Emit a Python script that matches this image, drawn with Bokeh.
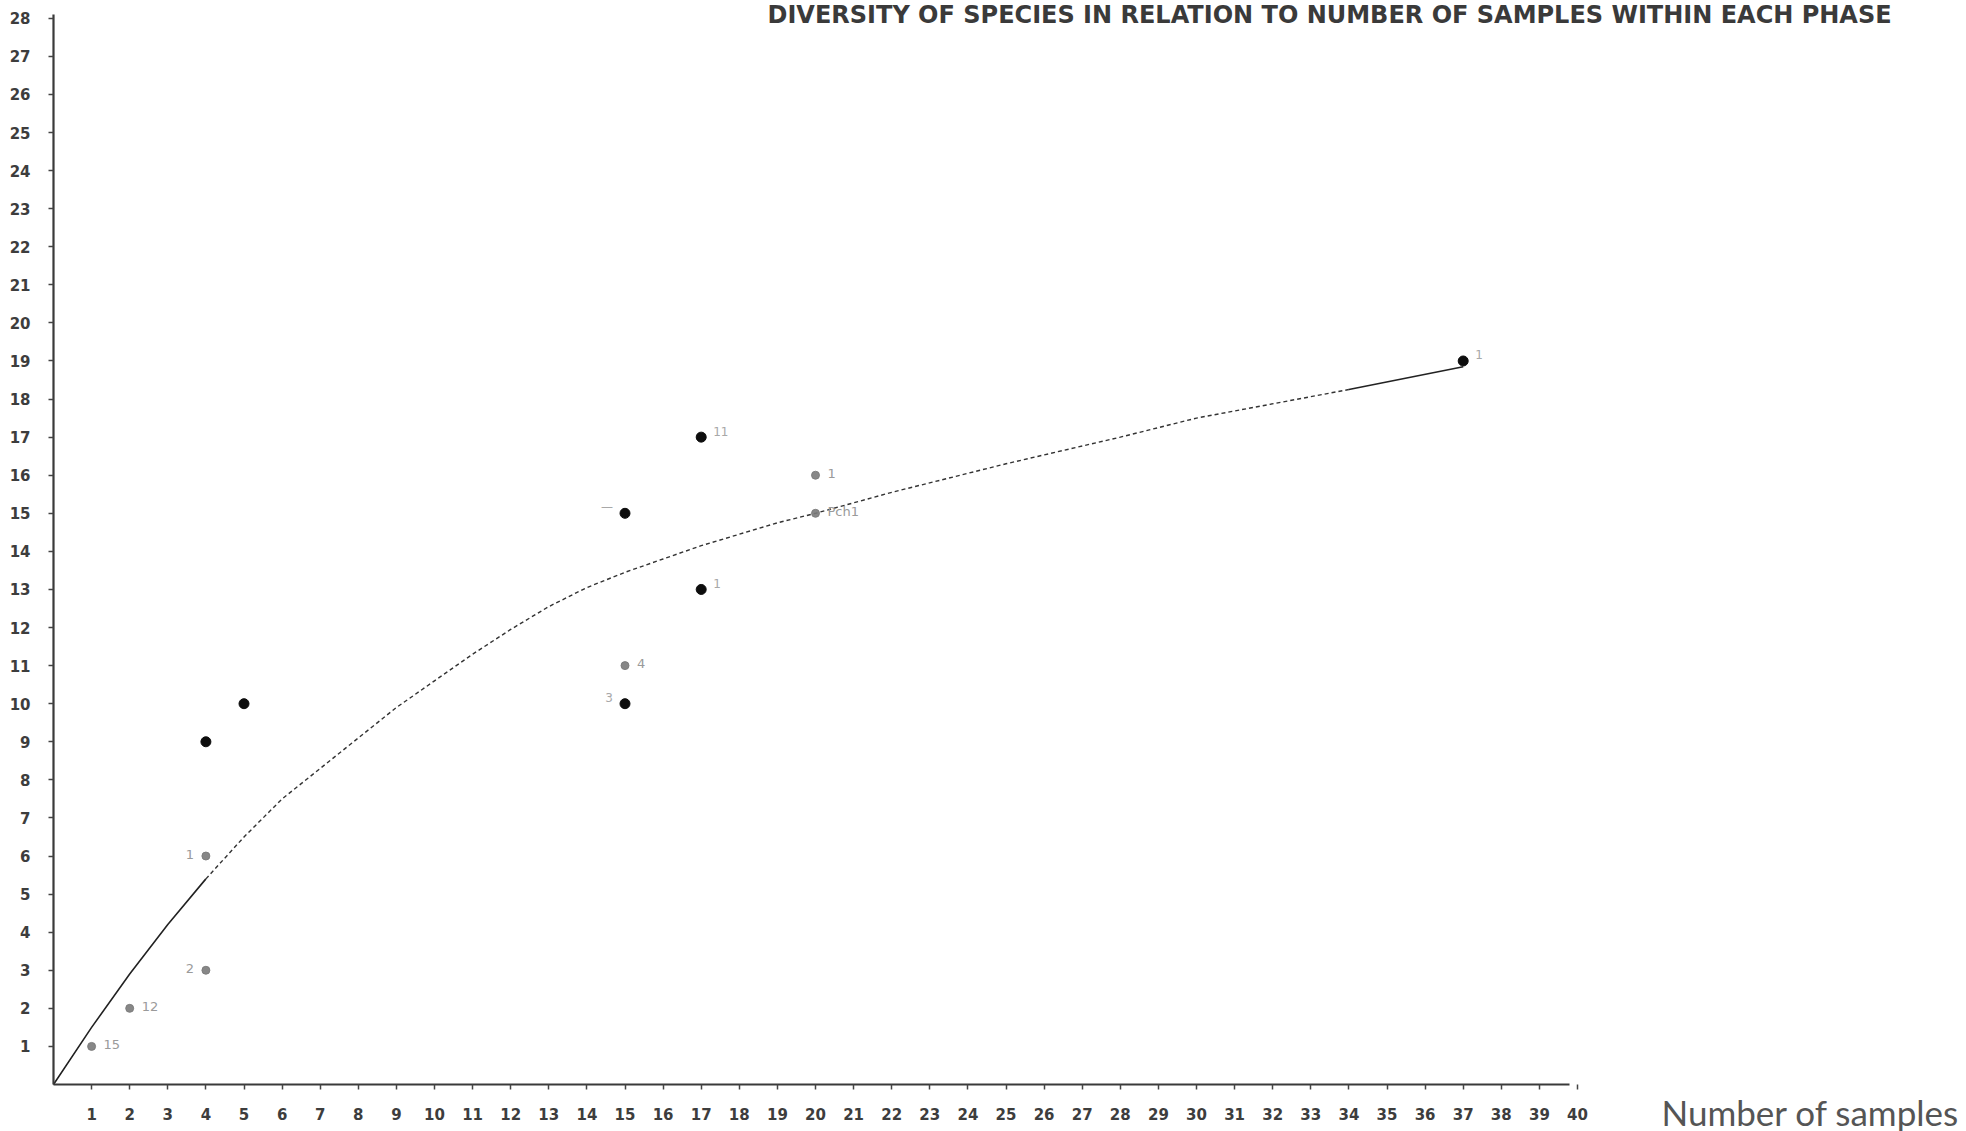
from bokeh.plotting import figure
from bokeh.models import Range1d, FixedTicker, Label, ColumnDataSource
from bokeh.embed import file_html
from bokeh.resources import INLINE
from bokeh.core.properties import value

# ---- data ----
black_x = [4, 5, 15, 15, 17, 17, 37]
black_y = [9, 10, 15, 10, 17, 13, 19]
black_lbl = ["", "", "\u2014", "3", "11", "1", "1"]
black_side = ["R", "R", "L", "L", "R", "R", "R"]

gray_x = [1, 2, 4, 4, 15, 20, 20]
gray_y = [1, 2, 3, 6, 11, 16, 15]
gray_lbl = ["15", "12", "2", "1", "4", "1", "Pch1"]
gray_side = ["R", "R", "L", "L", "R", "R", "R"]

curve_x = [0, 1, 2, 3, 4, 5, 6, 7, 8, 9, 10, 11, 12, 13, 14, 15, 16, 17, 18, 19, 20,
           22, 25, 28, 30, 34, 37]
curve_y = [0, 1.5, 2.9, 4.2, 5.4, 6.5, 7.5, 8.3, 9.1, 9.9, 10.6, 11.3, 11.95, 12.55,
           13.05, 13.45, 13.8, 14.15, 14.45, 14.75, 15.0, 15.55, 16.3, 17.0, 17.5,
           18.25, 18.85]

x_ticks = list(range(1, 41))
y_ticks = list(range(1, 29))

title_text = "DIVERSITY OF SPECIES IN RELATION TO NUMBER OF SAMPLES WITHIN EACH PHASE"
xlabel_text = "Number of samples"

# ---- figure: frame fills the canvas, axes pinned at 0 ----
W, H = 1966, 1131
x0_px, y0_px = 53, 1084          # screen position of the origin
sx, sy = 38.1, 38.08             # pixels per unit

p = figure(width=W, height=H, output_backend="svg", toolbar_location=None,
           x_range=Range1d(-x0_px / sx, (W - x0_px) / sx),
           y_range=Range1d(-(H - y0_px) / sy, y0_px / sy),
           min_border_left=0, min_border_right=0, min_border_top=0, min_border_bottom=0)
p.background_fill_color = "white"
p.border_fill_color = "white"
p.outline_line_color = None
p.grid.visible = False

for ax in (p.xaxis[0], p.yaxis[0]):
    ax.fixed_location = 0
    ax.axis_line_color = "#3a3a3a"
    ax.axis_line_width = 2.2
    ax.major_tick_line_color = "#444444"
    ax.major_tick_line_width = 1.5
    ax.major_tick_in = 0
    ax.major_tick_out = 5
    ax.minor_tick_line_color = None
    ax.major_label_text_color = "#3d3d3d"
    ax.major_label_text_font = "DejaVu Sans"
    ax.major_label_text_font_size = "15px"
    ax.major_label_text_font_style = "bold"

p.xaxis.ticker = FixedTicker(ticks=x_ticks)
p.yaxis.ticker = FixedTicker(ticks=y_ticks)
p.xaxis.bounds = (0, 39.8)
p.yaxis.bounds = (0, 28.1)
p.xaxis.major_label_standoff = 18
p.yaxis.major_label_standoff = 18

# ---- fitted curve: solid at both ends, broken in the middle ----
solid_a = [(x, y) for x, y in zip(curve_x, curve_y) if x <= 4.5]
dashed = [(x, y) for x, y in zip(curve_x, curve_y) if 4 <= x <= 34]
solid_b = [(x, y) for x, y in zip(curve_x, curve_y) if x >= 34]
p.line([a for a, _ in solid_a], [b for _, b in solid_a], line_color="#222222", line_width=1.6)
p.line([a for a, _ in dashed], [b for _, b in dashed], line_color="#333333", line_width=1.4,
       line_dash="4 3")
p.line([a for a, _ in solid_b], [b for _, b in solid_b], line_color="#222222", line_width=1.6)

# ---- points ----
p.scatter(gray_x, gray_y, size=8, color="#7a7a7a", alpha=0.9)
p.scatter(black_x, black_y, size=10, color="#0d0d0d")

# ---- faint hand labels beside points ----
def label_source(xs, ys, ts, sides):
    return ColumnDataSource(dict(
        x=xs, y=ys, t=ts,
        dx=[12 if s == "R" else -12 for s in sides],
        align=["left" if s == "R" else "right" for s in sides]))

gsrc = label_source(gray_x, gray_y, gray_lbl, gray_side)
bsrc = label_source(black_x, black_y, black_lbl, black_side)
p.text(x="x", y="y", text="t", source=gsrc, x_offset="dx", y_offset=-2, text_align="align",
       text_font=value("DejaVu Sans"), text_font_size="13px", text_color="#9a9a9a",
       text_baseline="middle")
p.text(x="x", y="y", text="t", source=bsrc, x_offset="dx", y_offset=-6, text_align="align",
       text_font=value("DejaVu Sans"), text_font_size="12px", text_color="#a8a8a8",
       text_baseline="middle")

# ---- title and axis caption ----
p.add_layout(Label(x=(767 - x0_px) / sx, y=(y0_px - 14) / sy, text=title_text,
                   text_font="DejaVu Sans", text_font_style="bold", text_font_size="24px",
                   text_color="#3a3a3a", text_baseline="middle"))
p.add_layout(Label(x=(1661 - x0_px) / sx, y=(y0_px - 1111) / sy, text=xlabel_text,
                   text_font="Lato", text_font_size="35px", text_color="#555555",
                   text_baseline="middle"))

open("out.html", "w").write(file_html(p, INLINE))
